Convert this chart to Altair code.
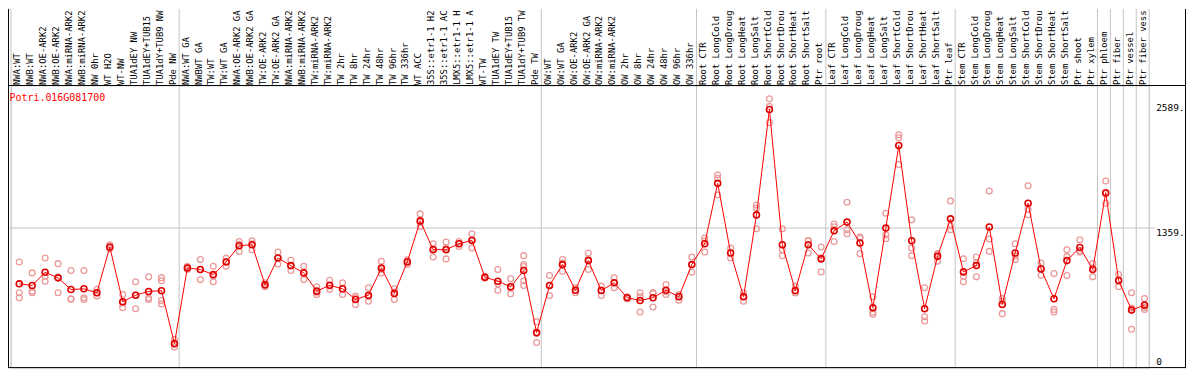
import json
import altair as alt
import pandas as pd

gene = "Potri.016G081700"

categories = [
    "NWA:WT", "NWB:WT", "NWA:OE-ARK2", "NWB:OE-ARK2", "NWA:miRNA-ARK2", "NWB:miRNA-ARK2",
    "NW 0hr", "WT H2O", "WT-NW", "TUA1dEY NW", "TUA1dEY+TUB15", "TUA1dY+TUB9 NW", "Pde NW",
    "NWA:WT GA", "NWBWT GA", "TW:WT", "TW:WT GA", "NWA:OE-ARK2 GA", "NWB:OE-ARK2 GA",
    "TW:OE-ARK2", "TW:OE-ARK2 GA", "NWA:miRNA-ARK2", "NWB:miRNA-ARK2", "TW:miRNA-ARK2",
    "TW:miRNA-ARK2", "TW 2hr", "TW 8hr", "TW 24hr", "TW 48hr", "TW 96hr", "TW 336hr", "WT ACC",
    "35S::etr1-1 H2", "35S::etr1-1 AC", "LMX5::etr1-1 H", "LMX5::etr1-1 A", "WT-TW",
    "TUA1dEY TW", "TUA1dEY+TUB15", "TUA1dY+TUB9 TW", "Pde TW",
    "OW:WT", "OW:WT GA", "OW:OE-ARK2", "OW:OE-ARK2 GA", "OW:miRNA-ARK2", "OW:miRNA-ARK2",
    "OW 2hr", "OW 8hr", "OW 24hr", "OW 48hr", "OW 96hr", "OW 336hr",
    "Root CTR", "Root LongCold", "Root LongDroug", "Root LongHeat", "Root LongSalt",
    "Root ShortCold", "Root ShortDrou", "Root ShortHeat", "Root ShortSalt", "Ptr root",
    "Leaf CTR", "Leaf LongCold", "Leaf LongDroug", "Leaf LongHeat", "Leaf LongSalt",
    "Leaf ShortCold", "Leaf ShortDrou", "Leaf ShortHeat", "Leaf ShortSalt", "Ptr leaf",
    "Stem CTR", "Stem LongCold", "Stem LongDroug", "Stem LongHeat", "Stem LongSalt",
    "Stem ShortCold", "Stem ShortDrou", "Stem ShortHeat", "Stem ShortSalt", "Ptr shoot",
    "Ptr xylem", "Ptr phloem", "Ptr fiber", "Ptr vessel", "Ptr fiber vess",
]

means = [
    809, 793, 923, 868, 753, 760, 721, 1172, 633, 697, 734, 741, 220,
    966, 950, 900, 1025, 1185, 1195, 799, 1064, 989, 917, 737, 795, 760, 655, 697, 966, 714,
    1025, 1430, 1146, 1146, 1205, 1237, 874, 835, 780, 940, 328,
    793, 999, 746, 1038, 743, 819, 672, 645, 672, 746, 682, 999,
    1205, 1800, 1113, 682, 1489, 2529, 1195, 743, 1195, 1055,
    1332, 1418, 1212, 574, 1359, 2173, 1234, 564, 1080, 1450,
    927, 989, 1369, 606, 1113, 1604, 956, 662, 1038, 1168, 950, 1708, 842, 550, 599,
]

replicates = [
    [1025, 721, 672], [917, 737, 721], [1064, 884, 835], [1008, 875, 721], [940, 662, 657],
    [940, 672, 655], [755, 720, 690], [1195, 1165, 1156], [704, 621, 574], [829, 698, 564],
    [878, 669, 655], [870, 840, 610, 645], [263, 210, 187],
    [982, 969, 950], [1048, 950, 851], [982, 890, 829], [1064, 1029, 982], [1227, 1199, 1129],
    [1234, 1205, 1146], [819, 798, 780], [1123, 1064, 1005], [1041, 986, 940], [982, 918, 851],
    [780, 727, 704], [845, 787, 753], [819, 757, 704], [688, 671, 606], [770, 683, 638],
    [1031, 950, 917], [760, 727, 655], [1045, 1031, 999], [1499, 1417, 1374], [1205, 1159, 1074],
    [1221, 1162, 1055], [1227, 1210, 1178], [1303, 1246, 1162], [884, 874, 864], [950, 809, 746],
    [858, 771, 711], [1087, 999, 980, 840, 793], [436, 318, 230],
    [891, 794, 694], [1048, 1016, 933], [770, 747, 721], [1113, 1051, 950], [786, 749, 694],
    [868, 819, 770], [682, 672, 662], [721, 683, 531], [722, 714, 580], [802, 732, 704],
    [704, 694, 648], [1074, 1000, 923],
    [1261, 1231, 1123], [1882, 1849, 1686], [1162, 1113, 1064], [721, 687, 638], [1587, 1555, 1352],
    [2634, 2559, 2399], [1352, 1146, 1087], [786, 724, 719], [1237, 1235, 1113], [1172, 1066, 927],
    [1398, 1371, 1227], [1614, 1342, 1303], [1270, 1259, 1107], [682, 530, 510], [1506, 1293, 1254],
    [2280, 2250, 1987], [1440, 1162, 1087], [770, 485, 442], [1107, 1102, 1031], [1627, 1381, 1342],
    [1057, 884, 829], [1074, 1015, 878], [1725, 1251, 1129], [665, 640, 515], [1205, 1086, 1048],
    [1777, 1545, 1490], [1015, 960, 894], [910, 557, 531], [1146, 1077, 891], [1244, 1139, 1122],
    [1008, 964, 878], [1823, 1697, 1604], [900, 845, 780], [721, 569, 361], [665, 575, 557],
]

group_starts = [0, 13, 41, 53, 63, 73, 84, 85, 86, 87]
grid_values = [1359]
tick_values = [2589, 1359]
tick_labels = ["2589.", "1359."]
zero_values = [0]
zero_labels = ["0"]

n = len(categories)
mean_df = pd.DataFrame({"idx": list(range(n)), "value": means})
rep_df = pd.DataFrame(
    [{"idx": i, "value": v} for i, vals in enumerate(replicates) for v in vals]
)
sep_df = pd.DataFrame({"idx": group_starts})
end_df = pd.DataFrame({"idx": [n - 1]})
grid_df = pd.DataFrame({"value": grid_values})
tick_df = pd.DataFrame({"value": tick_values, "label": tick_labels})
zero_df = pd.DataFrame({"value": zero_values, "label": zero_labels})
dummy = pd.DataFrame({"a": [0]})

W, H = 1144, 284
FONT = "DejaVu Sans Mono"
label_expr = json.dumps(categories) + "[datum.value]"

xscale = alt.Scale(domain=list(range(n)), paddingInner=0, paddingOuter=0)
yscale = alt.Scale(domain=[-22, 2765], nice=False, zero=False)
xaxis = alt.Axis(
    orient="top", labelAngle=270, labelAlign="left", labelBaseline="middle",
    labelPadding=1, ticks=False, domain=False, grid=False, title=None,
    labelFont=FONT, labelFontSize=8.9, labelColor="black", labelOverlap=False,
    labelExpr=label_expr, labelLimit=200,
)


def X(**kw):
    return alt.X("idx:O", scale=xscale, axis=xaxis, **kw)


Y = alt.Y("value:Q", scale=yscale, axis=None)

GRAY = "#c4c4c4"

seps = alt.Chart(sep_df).mark_rule(color=GRAY, strokeWidth=1).encode(
    x=X(bandPosition=0), y=alt.value(-77), y2=alt.value(H)
)
sep_end = alt.Chart(end_df).mark_rule(color=GRAY, strokeWidth=1).encode(
    x=X(bandPosition=1), y=alt.value(-77), y2=alt.value(H)
)
grid = alt.Chart(grid_df).mark_rule(color=GRAY, strokeWidth=1).encode(
    y=Y, x=alt.value(-3), x2=alt.value(1150)
)

frame_top = alt.Chart(dummy).mark_rule(color="black", strokeWidth=1).encode(
    x=alt.value(-3), x2=alt.value(1181), y=alt.value(0)
)
frame_bottom = alt.Chart(dummy).mark_rule(color="black", strokeWidth=1).encode(
    x=alt.value(-3), x2=alt.value(1181), y=alt.value(H - 0.5)
)
frame_left = alt.Chart(dummy).mark_rule(color="black", strokeWidth=1).encode(
    x=alt.value(-2.5), y=alt.value(-77), y2=alt.value(H)
)
frame_right = alt.Chart(dummy).mark_rule(color="black", strokeWidth=1).encode(
    x=alt.value(1180.5), y=alt.value(-77), y2=alt.value(H)
)

reps = alt.Chart(rep_df).mark_point(
    shape="circle", filled=False, size=34, strokeWidth=1.3,
    color="#eb9a9a", opacity=1, xOffset=1.8,
).encode(x=X(), y=Y)

line = alt.Chart(mean_df).mark_line(
    color="#ff0000", strokeWidth=1, xOffset=1.8
).encode(x=X(), y=Y)

pts = alt.Chart(mean_df).mark_point(
    shape="circle", filled=False, size=36, strokeWidth=1.6,
    color="#e00000", opacity=1, xOffset=1.8,
).encode(x=X(), y=Y)

title = alt.Chart(dummy).mark_text(
    text=gene, color="#ff0000", align="left", baseline="top",
    font=FONT, fontSize=10,
).encode(x=alt.value(-1.5), y=alt.value(8))

ticks = alt.Chart(tick_df).mark_text(
    align="left", baseline="top", font=FONT, fontSize=9.5, color="black"
).encode(y=Y, x=alt.value(1151), text="label:N")

zero = alt.Chart(zero_df).mark_text(
    align="left", baseline="alphabetic", font=FONT, fontSize=9.5, color="black", dy=-1
).encode(y=Y, x=alt.value(1151), text="label:N")

chart = alt.layer(
    seps, sep_end, grid, reps, line, pts,
    frame_top, frame_bottom, frame_left, frame_right, title, ticks, zero,
).properties(
    width=W, height=H,
    autosize=alt.AutoSizeParams(type="none"),
    padding={"left": 3, "top": 77, "right": 37, "bottom": 2},
).configure_view(stroke=None).configure(background="white")

chart.save("out.html", embed_options={"renderer": "svg", "actions": False})
